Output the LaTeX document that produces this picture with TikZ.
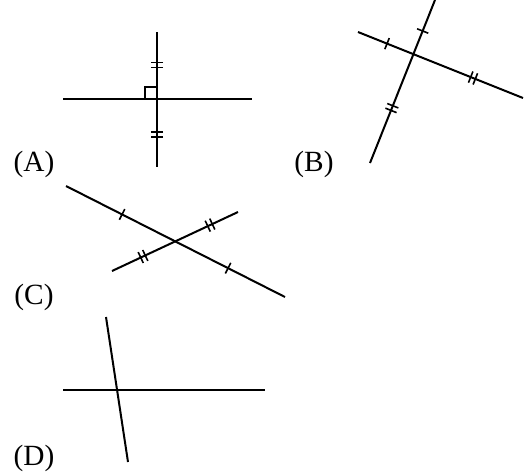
\documentclass[tikz,border=0pt]{standalone}
\usepackage{fontspec}
\setmainfont{Liberation Serif}
\usetikzlibrary{positioning}

\begin{document}
\begin{tikzpicture}[x=0.75pt, y=-0.75pt]

\tikzset{
  seg/.style={line width=1.5pt},
  tickline/.style={line width=1.2pt},
  tag/.style={inner sep=0pt, font=\fontsize{22}{26}\selectfont},
  onetick/.pic={\draw[tickline] (0,-6) -- (0,6);},
  twotick/.pic={\draw[tickline] (-2.5,-6) -- (-2.5,6) (2.5,-6) -- (2.5,6);}
}

\useasboundingbox (0,0) rectangle (528,472);

% ==========================
% (A): perpendicular with right angle
% ==========================
\coordinate (aW) at (63,99);
\coordinate (aE) at (252,99);
\coordinate (aN) at (157,32);
\coordinate (aS) at (157,167);

\draw[seg] (aW) -- (aE);
\draw[seg] (aN) -- (aS)
  pic[pos=0.244, sloped]{twotick}
  pic[pos=0.759, sloped]{twotick};
\draw[line width=1.2pt] (145,99) |- (157,87);

\node[tag] (labA) at (34,164) {(A)};

% ==========================
% (B)
% ==========================
\coordinate (bS) at (370,163);
\coordinate (bN) at (435,0);
\coordinate (bW) at (358,32);
\coordinate (bE) at (523,98);

\draw[seg] (bS) -- (bN)
  pic[pos=0.337, sloped]{twotick}
  pic[pos=0.81, sloped]{onetick};
\draw[seg] (bW) -- (bE)
  pic[pos=0.176, sloped]{onetick}
  pic[pos=0.697, sloped]{twotick};

\node[tag] (labB) at (314,164) {(B)};

% ==========================
% (C)
% ==========================
\coordinate (cNW) at (66,186);
\coordinate (cSE) at (285,297);
\coordinate (cSW) at (112,271);
\coordinate (cNE) at (238,212);

\draw[seg] (cNW) -- (cSE)
  pic[pos=0.256, sloped]{onetick}
  pic[pos=0.74, sloped]{onetick};
\draw[seg] (cSW) -- (cNE)
  pic[pos=0.246, sloped]{twotick}
  pic[pos=0.778, sloped]{twotick};

\node[tag] (labC) at (34,297) {(C)};

% ==========================
% (D)
% ==========================
\coordinate (dW) at (63,390);
\coordinate (dE) at (265,390);
\coordinate (dN) at (106,317);
\coordinate (dS) at (128,462);

\draw[seg] (dW) -- (dE);
\draw[seg] (dN) -- (dS);

\node[tag] (labD) at (34,458) {(D)};

\end{tikzpicture}
\end{document}
